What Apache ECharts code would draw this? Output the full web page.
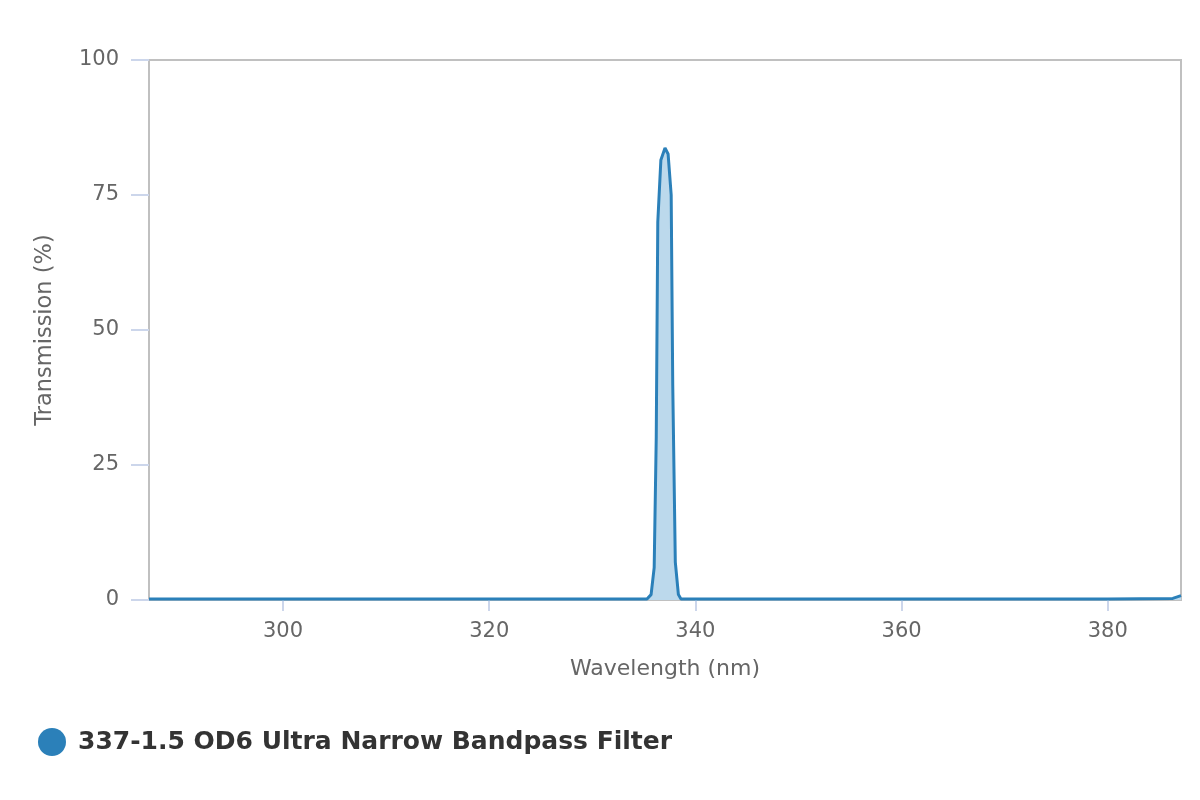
<!DOCTYPE html>
<html>
<head>
<meta charset="utf-8">
<script src="https://cdn.jsdelivr.net/npm/echarts@6/dist/echarts.min.js"></script>
<style>html,body{margin:0;padding:0;background:#fff;}#c{width:1200px;height:800px;}</style>
</head>
<body>
<div id="c"></div>
<script>
const seriesName = "337-1.5 OD6 Ultra Narrow Bandpass Filter";
const wavelengths = [287, 300, 320, 335.3, 335.7, 336.0, 336.2, 336.35, 336.65, 337.05, 337.35, 337.65, 337.8, 338.05, 338.35, 338.6, 360, 380, 386.3, 387.1];
const transmission = [0.2, 0.2, 0.2, 0.2, 1.0, 6.0, 30, 70, 81.5, 83.7, 82.6, 75, 40, 7, 1.0, 0.2, 0.2, 0.2, 0.3, 0.8];
const xTicks = [300, 320, 340, 360, 380];
const yTicks = [0, 25, 50, 75, 100];

const data = wavelengths.map((w, i) => [w, transmission[i]]);
const chart = echarts.init(document.getElementById('c'));
const font = '"DejaVu Sans", sans-serif';
chart.setOption({
  animation: false,
  grid: {left: 149, right: 19, top: 60, bottom: 200, show: true, borderColor: '#c0c0c0', borderWidth: 2},
  legend: {
    left: 38, top: 728, padding: 0, icon: 'circle', itemWidth: 28, itemHeight: 28, itemGap: 10,
    textStyle: {fontFamily: font, fontWeight: 'bold', fontSize: 25, color: '#333', padding: [0, 0, 0, 7]},
    data: [seriesName]
  },
  xAxis: {
    type: 'value', min: 287, max: 387.1,
    name: 'Wavelength (nm)', nameLocation: 'middle', nameGap: 58,
    nameTextStyle: {fontFamily: font, fontSize: 22, color: '#666'},
    axisLine: {show: true, lineStyle: {color: '#c0c0c0', width: 2}},
    axisTick: {show: true, length: 11, lineStyle: {color: '#ccd6eb', width: 2}, customValues: xTicks},
    axisLabel: {fontFamily: font, fontSize: 21, color: '#666', margin: 21, customValues: xTicks},
    splitLine: {show: false}
  },
  yAxis: {
    type: 'value', min: 0, max: 100, interval: 25,
    name: 'Transmission (%)', nameLocation: 'middle', nameGap: 92, nameRotate: 90,
    nameTextStyle: {fontFamily: font, fontSize: 22.5, color: '#666'},
    axisLine: {show: true, lineStyle: {color: '#c0c0c0', width: 2}},
    axisTick: {show: true, length: 18, lineStyle: {color: '#ccd6eb', width: 2}},
    axisLabel: {fontFamily: font, fontSize: 21, color: '#666', margin: 30, customValues: yTicks},
    splitLine: {show: false}
  },
  series: [{
    name: seriesName, type: 'line', data: data, showSymbol: false, smooth: false,
    itemStyle: {color: '#2b80b9'},
    lineStyle: {color: '#2b80b9', width: 3},
    areaStyle: {color: '#bcd9ec', opacity: 1}
  }]
});
</script>
</body>
</html>
